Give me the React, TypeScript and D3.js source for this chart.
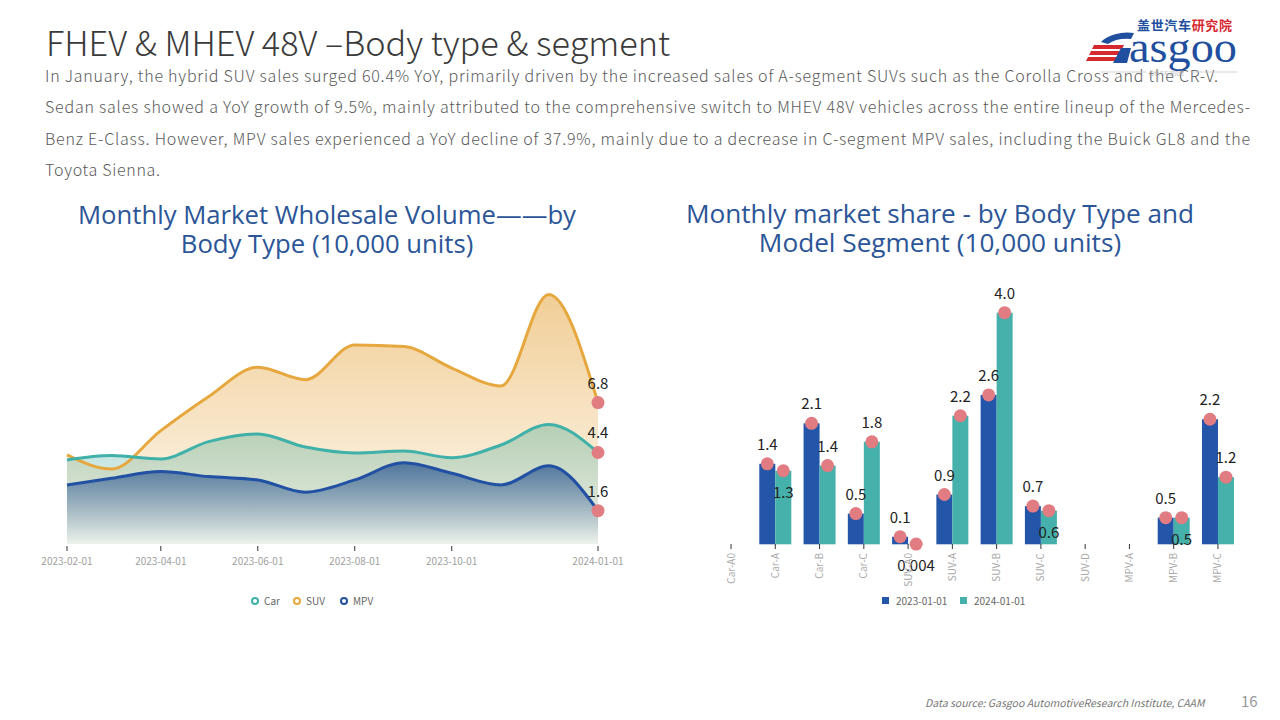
import React from "react";
import * as d3 from "d3";

// ---------- Data ----------
const months = [
  "2023-02-01", "2023-03-01", "2023-04-01", "2023-05-01", "2023-06-01", "2023-07-01",
  "2023-08-01", "2023-09-01", "2023-10-01", "2023-11-01", "2023-12-01", "2024-01-01",
];
const carValues = [4.04, 4.25, 4.09, 4.92, 5.29, 4.66, 4.38, 4.47, 4.15, 4.76, 5.75, 4.4];
const suvValues = [4.28, 3.6, 5.45, 7.08, 8.5, 7.9, 9.57, 9.49, 8.46, 7.6, 12.0, 6.8];
const mpvValues = [2.84, 3.16, 3.48, 3.24, 3.08, 2.49, 3.08, 3.91, 3.4, 2.84, 3.76, 1.6];
const timeTicks = ["2023-02-01", "2023-04-01", "2023-06-01", "2023-08-01", "2023-10-01", "2024-01-01"];

const segments = [
  "Car-A0", "Car-A", "Car-B", "Car-C", "SUV-A0", "SUV-A",
  "SUV-B", "SUV-C", "SUV-D", "MPV-A", "MPV-B", "MPV-C",
];
const seg2023: (number | null)[] = [null, 1.39, 2.09, 0.53, 0.13, 0.86, 2.58, 0.66, null, null, 0.46, 2.16];
const seg2024: (number | null)[] = [null, 1.27, 1.36, 1.77, 0.004, 2.22, 4.0, 0.58, null, null, 0.46, 1.16];
const barSeriesNames = ["2023-01-01", "2024-01-01"];

const paragraphLines = [
  "In January, the hybrid SUV sales surged 60.4% YoY, primarily driven by the increased sales of A-segment SUVs such as the Corolla Cross and the CR-V.",
  "Sedan sales showed a YoY growth of 9.5%, mainly attributed to the comprehensive switch to MHEV 48V vehicles across the entire lineup of the Mercedes-",
  "Benz E-Class. However, MPV sales experienced a YoY decline of 37.9%, mainly due to a decrease in C-segment MPV sales, including the Buick GL8 and the",
  "Toyota Sienna.",
];
const paragraphWidths = [1173, 1205, 1205, 115];

// ---------- Styles ----------
const FONT = "'Noto Sans CJK SC', 'Noto Sans', sans-serif";
const TITLE_FONT = "'Open Sans', 'Noto Sans', sans-serif";
const C_CAR = "#3fb1a9";
const C_SUV = "#e6a83e";
const C_MPV = "#2251a3";
const C_B23 = "#2356a8";
const C_B24 = "#46b1aa";
const C_DOT = "#e07c82";
const TITLE_BLUE = "#2b5597";

const parse = d3.timeParse("%Y-%m-%d");

export default function App() {
  // ----- Left chart scales -----
  const x = d3.scaleTime()
    .domain([parse("2023-02-01")!, parse("2024-01-01")!])
    .range([67, 598]);
  const y = d3.scaleLinear().domain([0, 13]).range([544, 544 - 13 * 20.8]);
  const dates = months.map((m) => parse(m)!);

  const series = [
    { name: "SUV", values: suvValues, color: C_SUV, grad: "gSuv" },
    { name: "Car", values: carValues, color: C_CAR, grad: "gCar" },
    { name: "MPV", values: mpvValues, color: C_MPV, grad: "gMpv" },
  ];
  const area = d3.area<number>()
    .x((_, i) => x(dates[i]))
    .y0(y(0))
    .y1((d) => y(d))
    .curve(d3.curveMonotoneX);
  const line = d3.line<number>()
    .x((_, i) => x(dates[i]))
    .y((d) => y(d))
    .curve(d3.curveMonotoneX);

  // ----- Right chart scales -----
  const bx = d3.scaleBand().domain(segments).range([708.9, 1240.1]).padding(0);
  const by = d3.scaleLinear().domain([0, 4.5]).range([544.3, 544.3 - 4.5 * 57.9]);
  const barW = 16;
  const fmt = (v: number) => (v >= 0.05 ? v.toFixed(1) : String(v));

  const legendLeft = [
    { name: "Car", color: C_CAR, x: 255 },
    { name: "SUV", color: C_SUV, x: 297 },
    { name: "MPV", color: C_MPV, x: 344 },
  ];

  return (
    <svg width={1280} height={720} style={{ position: "absolute", left: 0, top: 0, background: "#fff" }}>
      <defs>
        <linearGradient id="gSuv" x1="0" y1="0" x2="0" y2="1">
          <stop offset="0" stopColor="#e6a640" stopOpacity={0.55} />
          <stop offset="1" stopColor="#e6a640" stopOpacity={0.06} />
        </linearGradient>
        <linearGradient id="gCar" x1="0" y1="0" x2="0" y2="1">
          <stop offset="0" stopColor="#3aa596" stopOpacity={0.35} />
          <stop offset="1" stopColor="#3aa596" stopOpacity={0.08} />
        </linearGradient>
        <linearGradient id="gMpv" x1="0" y1="0" x2="0" y2="1">
          <stop offset="0" stopColor="#23508f" stopOpacity={0.72} />
          <stop offset="1" stopColor="#23508f" stopOpacity={0.0} />
        </linearGradient>
      </defs>

      {/* Header */}
      <text x={46} y={56} fontFamily={FONT} fontSize={34.3} fontWeight={300} fill="#3a3a3a">
        FHEV &amp; MHEV 48V –Body type &amp; segment
      </text>
      {paragraphLines.map((t, i) => (
        <text
          key={i}
          x={45}
          y={82 + i * 31.3}
          fontFamily={FONT}
          fontSize={16}
          fontWeight={300}
          fill="#595959"
          textLength={paragraphWidths[i]}
          lengthAdjust="spacing"
        >
          {t}
        </text>
      ))}

      {/* Logo */}
      <g>
        <text x={1137} y={30} fontFamily="'Noto Sans CJK SC', sans-serif" fontSize={13} fontWeight={700} textLength={95} lengthAdjust="spacing">
          <tspan fill="#1f4f9e">盖世汽车</tspan>
          <tspan fill="#d6282f">研究院</tspan>
        </text>
        <path d="M1101,42 A30,18 0 0 1 1134,33 L1131,39 A24,12 0 0 0 1108,44 Z" fill="#1f4f9e" />
        <path d="M1094,45 L1124,45 L1122,49 L1092,49 Z" fill="#d6282f" />
        <path d="M1091,51 L1121,51 L1119,55 L1089,55 Z" fill="#d6282f" />
        <path d="M1088,57 L1118,57 L1116,61 L1086,61 Z" fill="#d6282f" />
        <path d="M1121,48 L1131,48 L1127,63 L1113,63 Z" fill="#1f4f9e" />
        <text x={1129} y={62} fontFamily="'Liberation Serif', serif" fontSize={44} fill="#1f4f9e" textLength={108} lengthAdjust="spacingAndGlyphs">asgoo</text>
        <line x1={1100} y1={72} x2={1146} y2={72} stroke="#c8c8c8" strokeWidth={0.8} />
        <line x1={1190} y1={72} x2={1237} y2={72} stroke="#c8c8c8" strokeWidth={0.8} />
        <text x={1149} y={75} fontFamily="'Noto Sans CJK SC', sans-serif" fontSize={5} fill="#aaa">盖世汽车研究院</text>
      </g>

      {/* Left chart title */}
      <text x={327} y={224} textAnchor="middle" fontFamily={TITLE_FONT} fontSize={25.7} fill={TITLE_BLUE}>
        Monthly Market Wholesale Volume——by
      </text>
      <text x={327} y={253} textAnchor="middle" fontFamily={TITLE_FONT} fontSize={25.7} fill={TITLE_BLUE}>
        Body Type (10,000 units)
      </text>

      {/* Left chart areas */}
      {series.map((s) => (
        <path key={s.name + "a"} d={area(s.values)!} fill={`url(#${s.grad})`} />
      ))}
      {series.map((s) => (
        <path key={s.name + "l"} d={line(s.values)!} fill="none" stroke={s.color} strokeWidth={3} />
      ))}
      {series.map((s) => {
        const i = s.values.length - 1;
        const cx = x(dates[i]);
        const cy = y(s.values[i]);
        return (
          <g key={s.name + "d"}>
            <circle cx={cx} cy={cy} r={6.5} fill={C_DOT} />
            <text x={cx} y={cy - 14} textAnchor="middle" fontFamily={FONT} fontSize={15} fill="#222">
              {s.values[i].toFixed(1)}
            </text>
          </g>
        );
      })}
      {/* Left x axis */}
      {timeTicks.map((t) => {
        const tx = x(parse(t)!);
        return (
          <g key={t}>
            <line x1={tx} x2={tx} y1={546} y2={551} stroke="#333" strokeWidth={1} />
            <text x={tx} y={565} textAnchor="middle" fontFamily={FONT} fontSize={10} fill="#a0a0a0">
              {t}
            </text>
          </g>
        );
      })}
      {/* Left legend */}
      {legendLeft.map((l) => (
        <g key={l.name}>
          <circle cx={l.x} cy={601} r={3} fill="#fff" stroke={l.color} strokeWidth={2} />
          <text x={l.x + 9} y={605} fontFamily={FONT} fontSize={10} fill="#666">{l.name}</text>
        </g>
      ))}

      {/* Right chart title */}
      <text x={940} y={223} textAnchor="middle" fontFamily={TITLE_FONT} fontSize={26.2} fill={TITLE_BLUE}>
        Monthly market share - by Body Type and
      </text>
      <text x={940} y={252} textAnchor="middle" fontFamily={TITLE_FONT} fontSize={26.2} fill={TITLE_BLUE}>
        Model Segment (10,000 units)
      </text>

      {/* Bars */}
      {segments.map((seg, i) => {
        const cx = bx(seg)! + bx.bandwidth() / 2;
        const v1 = seg2023[i];
        const v2 = seg2024[i];
        const items: React.ReactNode[] = [];
        const y1 = v1 != null ? by(v1) : null;
        const y2 = v2 != null ? by(v2) : null;
        if (v1 != null && y1 != null) {
          items.push(<rect key="b1" x={cx - barW} y={y1} width={barW} height={by(0) - y1} fill={C_B23} />);
        }
        if (v2 != null && y2 != null) {
          items.push(<rect key="b2" x={cx} y={y2} width={barW} height={by(0) - y2} fill={C_B24} />);
        }
        if (v1 != null && y1 != null) {
          items.push(<circle key="d1" cx={cx - barW / 2} cy={y1} r={6.5} fill={C_DOT} />);
          items.push(
            <text key="t1" x={cx - barW / 2} y={y1 - 14} textAnchor="middle" fontFamily={FONT} fontSize={15} fill="#222">
              {fmt(v1)}
            </text>
          );
        }
        if (v2 != null && y2 != null) {
          const below = y1 != null && Math.abs(y2 - y1) < 20;
          items.push(<circle key="d2" cx={cx + barW / 2} cy={y2} r={6.5} fill={C_DOT} />);
          items.push(
            <text key="t2" x={cx + barW / 2} y={below ? y2 + 27 : y2 - 14} textAnchor="middle" fontFamily={FONT} fontSize={15} fill="#222">
              {fmt(v2)}
            </text>
          );
        }
        return <g key={seg}>{items}</g>;
      })}
      {/* Right x axis */}
      {segments.map((seg) => {
        const cx = bx(seg)! + bx.bandwidth() / 2;
        return (
          <g key={seg + "ax"}>
            <line x1={cx} x2={cx} y1={544} y2={549} stroke="#333" strokeWidth={1} />
            <text
              transform={`translate(${cx + 3.5},553) rotate(-90)`}
              textAnchor="end"
              fontFamily={FONT}
              fontSize={10}
              fill="#aaa"
            >
              {seg}
            </text>
          </g>
        );
      })}
      {/* Right legend */}
      {barSeriesNames.map((n, i) => {
        const lx = 882 + i * 78;
        return (
          <g key={n}>
            <rect x={lx} y={597} width={7} height={7} fill={i === 0 ? C_B23 : C_B24} />
            <text x={lx + 14} y={605} fontFamily={FONT} fontSize={10} fill="#666">{n}</text>
          </g>
        );
      })}

      {/* Footer */}
      <text x={925} y={707} fontFamily={FONT} fontSize={10.5} fontStyle="italic" fill="#777">
        Data source: Gasgoo AutomotiveResearch Institute, CAAM
      </text>
      <text x={1241} y={707} fontFamily={FONT} fontSize={15} fill="#999">16</text>
    </svg>
  );
}
